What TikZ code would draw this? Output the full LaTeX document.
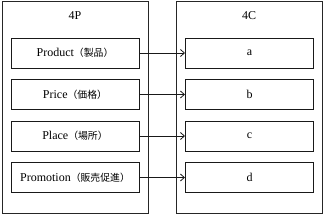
\documentclass[tikz,border=0pt]{standalone}
\usepackage{fontspec}
\setmainfont{Liberation Serif}
\newfontfamily\cjk[Scale=0.82]{Noto Sans CJK JP}
\usetikzlibrary{arrows.meta}
\begin{document}
\begin{tikzpicture}[x=1pt,y=-1pt,
  outerbox/.style={draw=black!85,line width=0.8pt,minimum width=146pt,minimum height=212pt,inner sep=0pt},
  itembox/.style={draw=black!90,line width=1pt,minimum width=128pt,minimum height=30pt,inner sep=0pt,font=\fontsize{12}{14}\selectfont},
  titletext/.style={font=\fontsize{12}{14}\selectfont},
  link/.style={draw=black!90,line width=0.8pt,-{Straight Barb[length=4pt,width=7pt]}}]
\useasboundingbox (0,0) rectangle (324,214);
\node[outerbox] (L) at (75,107) {};
\node[outerbox] (R) at (249,107) {};
\node[titletext] (t4p) at (75,16) {4P};
\node[titletext] (t4c) at (249,16) {4C};
\node[itembox] (p1) at (75,53) {Product{\cjk（製品）}};
\node[itembox] (p2) at (75,94.5) {Price{\cjk（価格）}};
\node[itembox] (p3) at (75,136) {Place{\cjk（場所）}};
\node[itembox] (p4) at (75,177.5) {Promotion{\cjk（販売促進）}};
\node[itembox] (c1) at (249.5,53) {a};
\node[itembox] (c2) at (249.5,94.5) {b};
\node[itembox] (c3) at (249.5,136) {c};
\node[itembox] (c4) at (249.5,177.5) {d};
\draw[link] (p1) -- (c1);
\draw[link] (p2) -- (c2);
\draw[link] (p3) -- (c3);
\draw[link] (p4) -- (c4);
\end{tikzpicture}
\end{document}
